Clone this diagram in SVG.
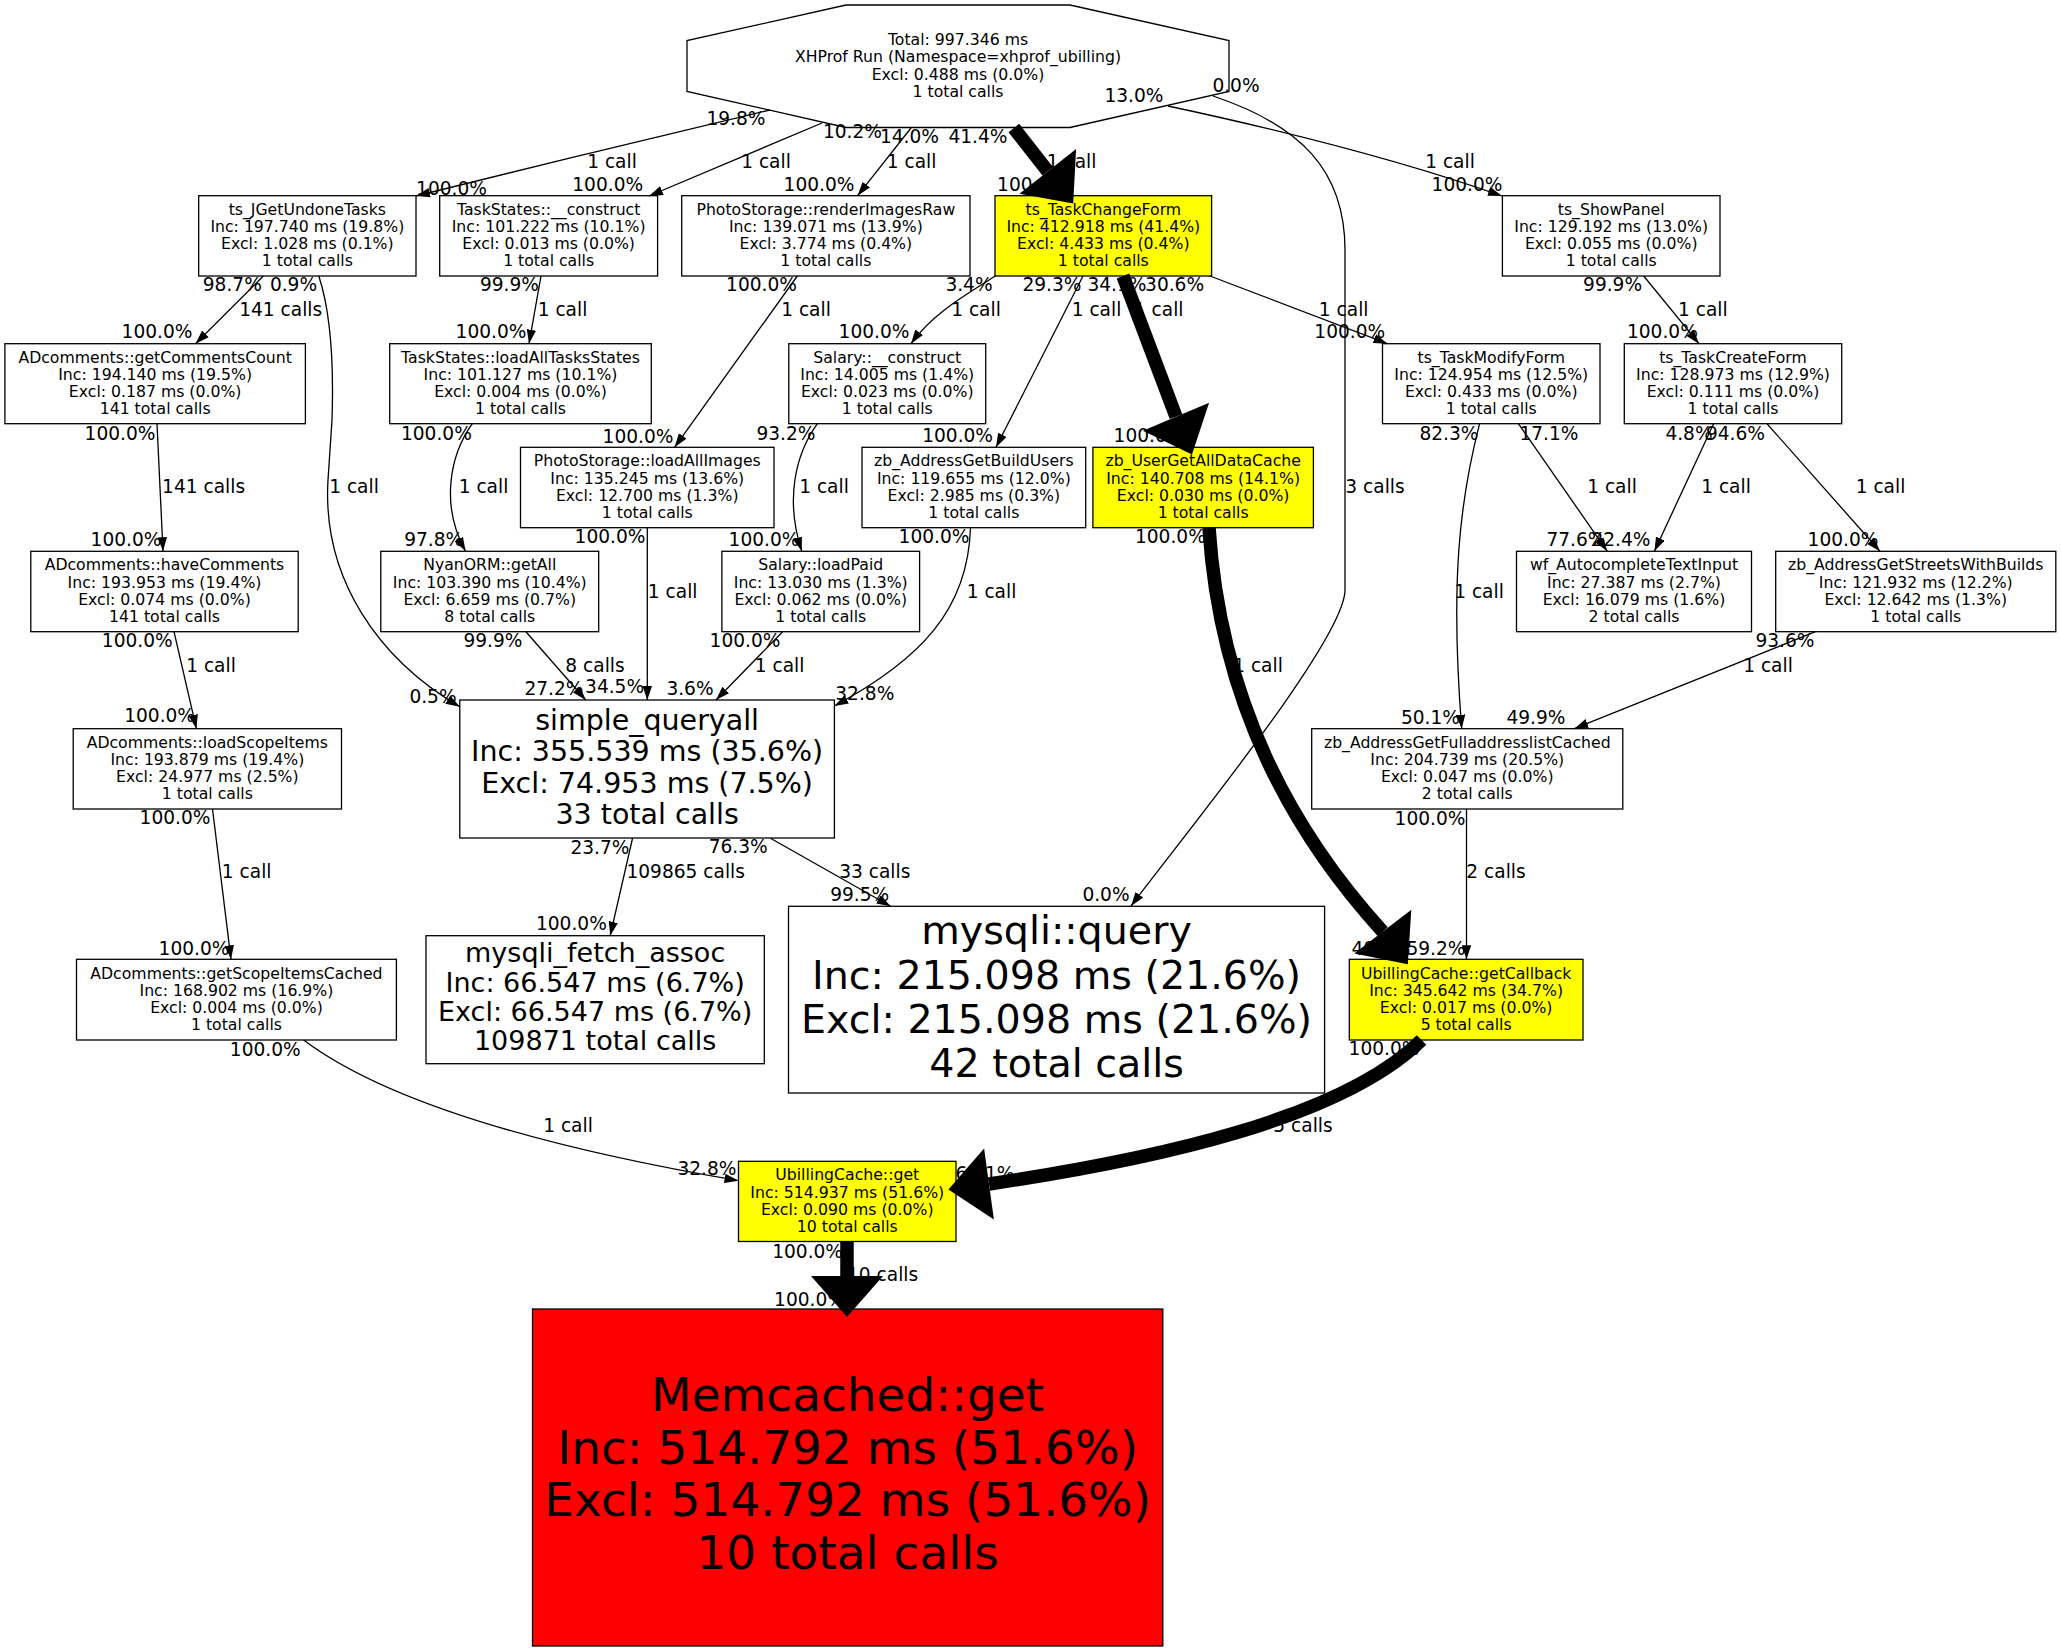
<svg xmlns="http://www.w3.org/2000/svg" width="2061" height="1650" viewBox="0 0 2061 1650">
<style>
.nd rect,.nd polygon{stroke:#000;stroke-width:1.3}
.w{fill:#fff}.y{fill:#ff0}.r{fill:#f00}
text{font-family:"DejaVu Sans","Liberation Sans",sans-serif;fill:#000;text-anchor:middle}
.t{font-size:15.7px}
.b1{font-size:28.5px}
.b0{font-size:27px}
.b2{font-size:39.6px}
.b3{font-size:47px}
.l{font-size:18.6px}
.e{fill:none;stroke:#000;stroke-width:1.3;marker-end:url(#a)}
.k{fill:none;stroke:#000;stroke-width:13.5}
.h{fill:#000}
</style>
<defs>
<marker id="a" markerUnits="userSpaceOnUse" markerWidth="14" markerHeight="10" refX="14" refY="5" orient="auto"><path d="M0,0.3L14,5L0,9.7z" fill="#000"/></marker>
</defs>
<rect x="0" y="0" width="2061" height="1650" fill="#fff"/>
<g id="nodes">
<g id="n0" class="nd"><polygon class="w" points="846,5 1070,5 1229,40.6 1229,91.4 1070,127.5 846,127.5 687,91.4 687,40.6"/>
<text class="t" x="958" y="45">Total: 997.346 ms</text><text class="t" x="958" y="62.3">XHProf Run (Namespace=xhprof_ubilling)</text><text class="t" x="958" y="79.6">Excl: 0.488 ms (0.0%)</text><text class="t" x="958" y="96.9">1 total calls</text></g>
<g id="n1" class="nd"><rect class="w" x="198.7" y="195.7" width="217.3" height="80.3"/>
<text class="t" x="307.35" y="214.8">ts_JGetUndoneTasks</text><text class="t" x="307.35" y="232">Inc: 197.740 ms (19.8%)</text><text class="t" x="307.35" y="249.2">Excl: 1.028 ms (0.1%)</text><text class="t" x="307.35" y="266.4">1 total calls</text></g>
<g id="n2" class="nd"><rect class="w" x="439.7" y="195.7" width="217.9" height="80.3"/>
<text class="t" x="548.65" y="214.8">TaskStates::__construct</text><text class="t" x="548.65" y="232">Inc: 101.222 ms (10.1%)</text><text class="t" x="548.65" y="249.2">Excl: 0.013 ms (0.0%)</text><text class="t" x="548.65" y="266.4">1 total calls</text></g>
<g id="n3" class="nd"><rect class="w" x="681.7" y="195.7" width="288.3" height="80.3"/>
<text class="t" x="825.85" y="214.8">PhotoStorage::renderImagesRaw</text><text class="t" x="825.85" y="232">Inc: 139.071 ms (13.9%)</text><text class="t" x="825.85" y="249.2">Excl: 3.774 ms (0.4%)</text><text class="t" x="825.85" y="266.4">1 total calls</text></g>
<g id="n4" class="nd"><rect class="y" x="995" y="195.7" width="216.6" height="80.3"/>
<text class="t" x="1103.3" y="214.8">ts_TaskChangeForm</text><text class="t" x="1103.3" y="232">Inc: 412.918 ms (41.4%)</text><text class="t" x="1103.3" y="249.2">Excl: 4.433 ms (0.4%)</text><text class="t" x="1103.3" y="266.4">1 total calls</text></g>
<g id="n5" class="nd"><rect class="w" x="1502.4" y="195.7" width="217.6" height="80.3"/>
<text class="t" x="1611.2" y="214.8">ts_ShowPanel</text><text class="t" x="1611.2" y="232">Inc: 129.192 ms (13.0%)</text><text class="t" x="1611.2" y="249.2">Excl: 0.055 ms (0.0%)</text><text class="t" x="1611.2" y="266.4">1 total calls</text></g>
<g id="n6" class="nd"><rect class="w" x="4.9" y="343.7" width="300.5" height="80"/>
<text class="t" x="155.15" y="362.6">ADcomments::getCommentsCount</text><text class="t" x="155.15" y="379.8">Inc: 194.140 ms (19.5%)</text><text class="t" x="155.15" y="397">Excl: 0.187 ms (0.0%)</text><text class="t" x="155.15" y="414.2">141 total calls</text></g>
<g id="n7" class="nd"><rect class="w" x="389.7" y="343.7" width="261.6" height="80"/>
<text class="t" x="520.5" y="362.6">TaskStates::loadAllTasksStates</text><text class="t" x="520.5" y="379.8">Inc: 101.127 ms (10.1%)</text><text class="t" x="520.5" y="397">Excl: 0.004 ms (0.0%)</text><text class="t" x="520.5" y="414.2">1 total calls</text></g>
<g id="n8" class="nd"><rect class="w" x="788.8" y="343.7" width="196.9" height="80"/>
<text class="t" x="887.25" y="362.6">Salary::__construct</text><text class="t" x="887.25" y="379.8">Inc: 14.005 ms (1.4%)</text><text class="t" x="887.25" y="397">Excl: 0.023 ms (0.0%)</text><text class="t" x="887.25" y="414.2">1 total calls</text></g>
<g id="n9" class="nd"><rect class="w" x="1382.5" y="343.7" width="217.5" height="80"/>
<text class="t" x="1491.25" y="362.6">ts_TaskModifyForm</text><text class="t" x="1491.25" y="379.8">Inc: 124.954 ms (12.5%)</text><text class="t" x="1491.25" y="397">Excl: 0.433 ms (0.0%)</text><text class="t" x="1491.25" y="414.2">1 total calls</text></g>
<g id="n10" class="nd"><rect class="w" x="1624.3" y="343.7" width="217.4" height="80"/>
<text class="t" x="1733" y="362.6">ts_TaskCreateForm</text><text class="t" x="1733" y="379.8">Inc: 128.973 ms (12.9%)</text><text class="t" x="1733" y="397">Excl: 0.111 ms (0.0%)</text><text class="t" x="1733" y="414.2">1 total calls</text></g>
<g id="n11" class="nd"><rect class="w" x="520.5" y="447.3" width="253.5" height="80.4"/>
<text class="t" x="647.25" y="466.4">PhotoStorage::loadAllImages</text><text class="t" x="647.25" y="483.6">Inc: 135.245 ms (13.6%)</text><text class="t" x="647.25" y="500.8">Excl: 12.700 ms (1.3%)</text><text class="t" x="647.25" y="518">1 total calls</text></g>
<g id="n12" class="nd"><rect class="w" x="862" y="447.3" width="223.7" height="80.4"/>
<text class="t" x="973.85" y="466.4">zb_AddressGetBuildUsers</text><text class="t" x="973.85" y="483.6">Inc: 119.655 ms (12.0%)</text><text class="t" x="973.85" y="500.8">Excl: 2.985 ms (0.3%)</text><text class="t" x="973.85" y="518">1 total calls</text></g>
<g id="n13" class="nd"><rect class="y" x="1092.9" y="447.3" width="220.5" height="80.4"/>
<text class="t" x="1203.15" y="466.4">zb_UserGetAllDataCache</text><text class="t" x="1203.15" y="483.6">Inc: 140.708 ms (14.1%)</text><text class="t" x="1203.15" y="500.8">Excl: 0.030 ms (0.0%)</text><text class="t" x="1203.15" y="518">1 total calls</text></g>
<g id="n14" class="nd"><rect class="w" x="30.8" y="551.3" width="267.4" height="80.4"/>
<text class="t" x="164.5" y="570.4">ADcomments::haveComments</text><text class="t" x="164.5" y="587.6">Inc: 193.953 ms (19.4%)</text><text class="t" x="164.5" y="604.8">Excl: 0.074 ms (0.0%)</text><text class="t" x="164.5" y="622">141 total calls</text></g>
<g id="n15" class="nd"><rect class="w" x="380.8" y="551.3" width="217.9" height="80.4"/>
<text class="t" x="489.75" y="570.4">NyanORM::getAll</text><text class="t" x="489.75" y="587.6">Inc: 103.390 ms (10.4%)</text><text class="t" x="489.75" y="604.8">Excl: 6.659 ms (0.7%)</text><text class="t" x="489.75" y="622">8 total calls</text></g>
<g id="n16" class="nd"><rect class="w" x="721.9" y="551.3" width="197.7" height="80.4"/>
<text class="t" x="820.75" y="570.4">Salary::loadPaid</text><text class="t" x="820.75" y="587.6">Inc: 13.030 ms (1.3%)</text><text class="t" x="820.75" y="604.8">Excl: 0.062 ms (0.0%)</text><text class="t" x="820.75" y="622">1 total calls</text></g>
<g id="n17" class="nd"><rect class="w" x="1516.5" y="551.3" width="235" height="80.4"/>
<text class="t" x="1634" y="570.4">wf_AutocompleteTextInput</text><text class="t" x="1634" y="587.6">Inc: 27.387 ms (2.7%)</text><text class="t" x="1634" y="604.8">Excl: 16.079 ms (1.6%)</text><text class="t" x="1634" y="622">2 total calls</text></g>
<g id="n18" class="nd"><rect class="w" x="1775.7" y="551.3" width="280.1" height="80.4"/>
<text class="t" x="1915.75" y="570.4">zb_AddressGetStreetsWithBuilds</text><text class="t" x="1915.75" y="587.6">Inc: 121.932 ms (12.2%)</text><text class="t" x="1915.75" y="604.8">Excl: 12.642 ms (1.3%)</text><text class="t" x="1915.75" y="622">1 total calls</text></g>
<g id="n19" class="nd"><rect class="w" x="459.8" y="700" width="374.6" height="138"/>
<text class="b1" x="647.1" y="729.6">simple_queryall</text><text class="b1" x="647.1" y="761.2">Inc: 355.539 ms (35.6%)</text><text class="b1" x="647.1" y="792.8">Excl: 74.953 ms (7.5%)</text><text class="b1" x="647.1" y="824.4">33 total calls</text></g>
<g id="n20" class="nd"><rect class="w" x="73.2" y="728.7" width="268.3" height="80.3"/>
<text class="t" x="207.35" y="747.8">ADcomments::loadScopeItems</text><text class="t" x="207.35" y="765">Inc: 193.879 ms (19.4%)</text><text class="t" x="207.35" y="782.2">Excl: 24.977 ms (2.5%)</text><text class="t" x="207.35" y="799.4">1 total calls</text></g>
<g id="n21" class="nd"><rect class="w" x="1311.7" y="728.7" width="311.1" height="80.3"/>
<text class="t" x="1467.25" y="747.8">zb_AddressGetFulladdresslistCached</text><text class="t" x="1467.25" y="765">Inc: 204.739 ms (20.5%)</text><text class="t" x="1467.25" y="782.2">Excl: 0.047 ms (0.0%)</text><text class="t" x="1467.25" y="799.4">2 total calls</text></g>
<g id="n22" class="nd"><rect class="w" x="426" y="935.7" width="338.3" height="128"/>
<text class="b0" x="595.15" y="961.7">mysqli_fetch_assoc</text><text class="b0" x="595.15" y="991.8">Inc: 66.547 ms (6.7%)</text><text class="b0" x="595.15" y="1021">Excl: 66.547 ms (6.7%)</text><text class="b0" x="595.15" y="1049.8">109871 total calls</text></g>
<g id="n23" class="nd"><rect class="w" x="788.5" y="906.3" width="536.1" height="186.7"/>
<text class="b2" x="1056.55" y="943.5">mysqli::query</text><text class="b2" x="1056.55" y="988.5">Inc: 215.098 ms (21.6%)</text><text class="b2" x="1056.55" y="1033.3">Excl: 215.098 ms (21.6%)</text><text class="b2" x="1056.55" y="1077.2">42 total calls</text></g>
<g id="n24" class="nd"><rect class="w" x="76.5" y="959.3" width="319.9" height="80.7"/>
<text class="t" x="236.45" y="978.6">ADcomments::getScopeItemsCached</text><text class="t" x="236.45" y="995.8">Inc: 168.902 ms (16.9%)</text><text class="t" x="236.45" y="1013">Excl: 0.004 ms (0.0%)</text><text class="t" x="236.45" y="1030.2">1 total calls</text></g>
<g id="n25" class="nd"><rect class="y" x="1349.3" y="959.3" width="233.7" height="80.7"/>
<text class="t" x="1466.15" y="978.6">UbillingCache::getCallback</text><text class="t" x="1466.15" y="995.8">Inc: 345.642 ms (34.7%)</text><text class="t" x="1466.15" y="1013">Excl: 0.017 ms (0.0%)</text><text class="t" x="1466.15" y="1030.2">5 total calls</text></g>
<g id="n26" class="nd"><rect class="y" x="738.5" y="1161.3" width="217.5" height="80.2"/>
<text class="t" x="847.25" y="1180.3">UbillingCache::get</text><text class="t" x="847.25" y="1197.5">Inc: 514.937 ms (51.6%)</text><text class="t" x="847.25" y="1214.7">Excl: 0.090 ms (0.0%)</text><text class="t" x="847.25" y="1231.9">10 total calls</text></g>
<g id="n27" class="nd"><rect class="r" x="532.5" y="1309" width="630.3" height="337"/>
<text class="b3" x="847.65" y="1411">Memcached::get</text><text class="b3" x="847.65" y="1463.6">Inc: 514.792 ms (51.6%)</text><text class="b3" x="847.65" y="1515.8">Excl: 514.792 ms (51.6%)</text><text class="b3" x="847.65" y="1568.5">10 total calls</text></g>
</g>
<g id="connectors">
<g id="e1"><path class="e" d="M770,110 C700,126 520,170 416,196"/><text class="l" x="736" y="124.7">19.8%</text><text class="l" x="612" y="167.7">1 call</text><text class="l" x="451.5" y="194.7">100.0%</text></g>
<g id="e2"><path class="e" d="M822,123 L649,196"/><text class="l" x="852.5" y="138.4">10.2%</text><text class="l" x="766" y="167.7">1 call</text><text class="l" x="607.7" y="190.7">100.0%</text></g>
<g id="e3"><path class="e" d="M911,128 L857.6,195.7"/><text class="l" x="909.5" y="143.4">14.0%</text><text class="l" x="911.6" y="167.7">1 call</text><text class="l" x="819" y="190.7">100.0%</text></g>
<g id="e4"><path class="k" d="M1013.8,128 L1047.8,171.4"/><polygon class="h" points="1076.1,149.1 1019.5,193.7 1073.2,203.6"/><text class="l" x="978" y="143.4">41.4%</text><text class="l" x="1071.6" y="167.7">1 call</text><text class="l" x="1032.5" y="190.7">100.0%</text></g>
<g id="e5"><path class="e" d="M1168,106 C1280,130 1400,160 1502,196"/><text class="l" x="1134" y="101.7">13.0%</text><text class="l" x="1450" y="167.7">1 call</text><text class="l" x="1467" y="190.7">100.0%</text></g>
<g id="e6"><path class="e" d="M1213,96 C1300,125 1345,170 1345,250 L1345,590 C1345,640 1180,840 1131,906"/><text class="l" x="1236" y="91.7">0.0%</text><text class="l" x="1375" y="493.4">3 calls</text><text class="l" x="1106" y="900.7">0.0%</text></g>
<g id="e7"><path class="e" d="M263.4,276 L195.5,343.7"/><text class="l" x="232.3" y="291">98.7%</text><text class="l" x="280.7" y="315.7">141 calls</text><text class="l" x="157" y="338.4">100.0%</text></g>
<g id="e8"><path class="e" d="M318.8,276 C330,310 334,360 332,420 L328,480 C322,580 380,660 459.8,706.7"/><text class="l" x="293.5" y="291">0.9%</text><text class="l" x="354" y="493.4">1 call</text><text class="l" x="433" y="702.7">0.5%</text></g>
<g id="e9"><path class="e" d="M541,276 L529,343.7"/><text class="l" x="509.5" y="291">99.9%</text><text class="l" x="562.5" y="315.7">1 call</text><text class="l" x="491" y="338.4">100.0%</text></g>
<g id="e10"><path class="e" d="M797.3,276 L674.6,447.3"/><text class="l" x="761.5" y="291">100.0%</text><text class="l" x="806" y="315.7">1 call</text><text class="l" x="638" y="443.4">100.0%</text></g>
<g id="e11"><path class="e" d="M995,276 C975,290 935,310 911,343.7"/><text class="l" x="969" y="291">3.4%</text><text class="l" x="976" y="315.7">1 call</text><text class="l" x="874" y="338.4">100.0%</text></g>
<g id="e12"><path class="e" d="M1083,276 L996,447.3"/><text class="l" x="1052" y="291">29.3%</text><text class="l" x="1096.5" y="315.7">1 call</text><text class="l" x="957.6" y="442.4">100.0%</text></g>
<g id="e13"><path class="k" d="M1123,276 L1176,416.7"/><polygon class="h" points="1209.1,402.7 1142.9,430.7 1192,454.4"/><text class="l" x="1117" y="291">34.1%</text><text class="l" x="1158.7" y="315.7">1 call</text><text class="l" x="1149" y="442.4">100.0%</text></g>
<g id="e14"><path class="e" d="M1210,276 L1387.4,343.7"/><text class="l" x="1174.6" y="291">30.6%</text><text class="l" x="1343.7" y="315.7">1 call</text><text class="l" x="1349.8" y="338.4">100.0%</text></g>
<g id="e15"><path class="e" d="M1643.7,276 L1699,343.7"/><text class="l" x="1612.6" y="291">99.9%</text><text class="l" x="1702.8" y="315.7">1 call</text><text class="l" x="1662.4" y="338.4">100.0%</text></g>
<g id="e16"><path class="e" d="M157,423.7 L163,551.3"/><text class="l" x="120" y="440">100.0%</text><text class="l" x="203.6" y="493.4">141 calls</text><text class="l" x="126" y="545.7">100.0%</text></g>
<g id="e17"><path class="e" d="M472.3,423.7 C450,455 440,505 465.6,551.3"/><text class="l" x="436.4" y="440">100.0%</text><text class="l" x="483.5" y="493.4">1 call</text><text class="l" x="433.7" y="545.7">97.8%</text></g>
<g id="e18"><path class="e" d="M817.4,423.7 C795,455 785,500 801.8,551.3"/><text class="l" x="786" y="440">93.2%</text><text class="l" x="824" y="493.4">1 call</text><text class="l" x="764" y="545.7">100.0%</text></g>
<g id="e19"><path class="e" d="M647.3,527.7 L647.3,700"/><text class="l" x="610" y="543.4">100.0%</text><text class="l" x="672.7" y="597.7">1 call</text><text class="l" x="614.6" y="693.4">34.5%</text></g>
<g id="e20"><path class="e" d="M525.9,631.7 L585.7,700"/><text class="l" x="493" y="647.4">99.9%</text><text class="l" x="595" y="671.7">8 calls</text><text class="l" x="554" y="695">27.2%</text></g>
<g id="e21"><path class="e" d="M782.6,631.7 L716,700"/><text class="l" x="745" y="647.4">100.0%</text><text class="l" x="779.6" y="671.7">1 call</text><text class="l" x="690" y="695">3.6%</text></g>
<g id="e22"><path class="e" d="M970.5,527.7 C968,610 920,660 834.4,706"/><text class="l" x="934" y="543.4">100.0%</text><text class="l" x="991.5" y="597.7">1 call</text><text class="l" x="864.8" y="700">32.8%</text></g>
<g id="e23"><path class="k" d="M1209,527.7 C1220,700 1290,830 1382.8,931.7"/><polygon class="h" points="1411.3,909.8 1354.3,953.6 1407.8,964.2"/><text class="l" x="1170.4" y="543.4">100.0%</text><text class="l" x="1258" y="671.7">1 call</text><text class="l" x="1381" y="955">40.8%</text></g>
<g id="e24"><path class="e" d="M1466.5,809 L1466.5,959.3"/><text class="l" x="1430" y="825">100.0%</text><text class="l" x="1496" y="877.7">2 calls</text><text class="l" x="1436" y="955">59.2%</text></g>
<g id="e25"><path class="e" d="M1479.6,423.7 C1460,500 1450,580 1461.7,728.7"/><text class="l" x="1449" y="440">82.3%</text><text class="l" x="1479" y="597.7">1 call</text><text class="l" x="1430.5" y="724">50.1%</text></g>
<g id="e26"><path class="e" d="M1518.4,423.7 L1607.3,551.3"/><text class="l" x="1549" y="440">17.1%</text><text class="l" x="1612" y="493.4">1 call</text><text class="l" x="1576" y="545.7">77.6%</text></g>
<g id="e27"><path class="e" d="M1713.6,423.7 L1654.4,551.3"/><text class="l" x="1689" y="440">4.8%</text><text class="l" x="1726" y="493.4">1 call</text><text class="l" x="1621" y="545.7">22.4%</text></g>
<g id="e28"><path class="e" d="M1767,423.7 L1880,551.3"/><text class="l" x="1735.5" y="440">94.6%</text><text class="l" x="1880.5" y="493.4">1 call</text><text class="l" x="1843" y="545.7">100.0%</text></g>
<g id="e29"><path class="e" d="M1815.5,631.7 L1574.3,728.7"/><text class="l" x="1785" y="647.4">93.6%</text><text class="l" x="1768" y="671.7">1 call</text><text class="l" x="1536" y="724">49.9%</text></g>
<g id="e30"><path class="e" d="M174,631.7 L196.4,728.7"/><text class="l" x="137.3" y="647.4">100.0%</text><text class="l" x="211" y="671.7">1 call</text><text class="l" x="159.6" y="722.4">100.0%</text></g>
<g id="e31"><path class="e" d="M212.5,809 L231,959.3"/><text class="l" x="175" y="824.4">100.0%</text><text class="l" x="246.7" y="877.7">1 call</text><text class="l" x="194" y="955">100.0%</text></g>
<g id="e32"><path class="e" d="M632.6,838 L610.2,935.7"/><text class="l" x="600" y="854">23.7%</text><text class="l" x="685.7" y="877.7">109865 calls</text><text class="l" x="571.4" y="930">100.0%</text></g>
<g id="e33"><path class="e" d="M770.5,838.3 L890.6,906.3"/><text class="l" x="738.2" y="853.4">76.3%</text><text class="l" x="874.8" y="877.7">33 calls</text><text class="l" x="859.7" y="901">99.5%</text></g>
<g id="e34"><path class="e" d="M303.6,1040 C370,1090 500,1140 738.5,1180.7"/><text class="l" x="265.3" y="1055.7">100.0%</text><text class="l" x="568" y="1132.4">1 call</text><text class="l" x="707" y="1175">32.8%</text></g>
<g id="e35"><path class="k" d="M1421.6,1040 C1340,1120 1150,1160 989,1184"/><polygon class="h" points="993.9,1219.6 984.1,1148.4 948.4,1189.5"/><text class="l" x="1384" y="1055">100.0%</text><text class="l" x="1303" y="1132.4">5 calls</text><text class="l" x="985" y="1180">67.1%</text></g>
<g id="e36"><path class="k" d="M847,1241.5 L847,1276"/><polygon class="h" points="811,1276 883,1276 847,1317"/><text class="l" x="807.6" y="1258.3">100.0%</text><text class="l" x="882.6" y="1281.2">10 calls</text><text class="l" x="809.5" y="1305.9">100.0%</text></g>
</g>
</svg>
